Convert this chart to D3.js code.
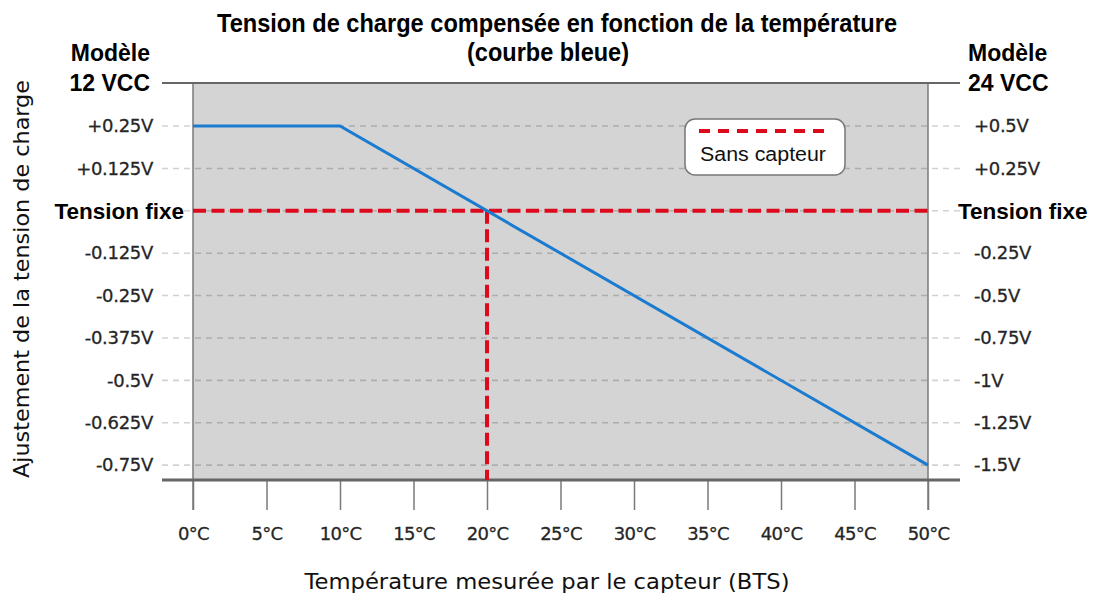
<!DOCTYPE html>
<html>
<head>
<meta charset="utf-8">
<script src="https://cdn.jsdelivr.net/npm/d3@7"></script>
<style>
  html, body { margin: 0; padding: 0; background: #fff; }
  svg { display: block; }
</style>
</head>
<body>
<svg id="chart" width="1094" height="594"></svg>
<script>
// Compensated charge voltage (blue curve) versus measured temperature
const temps = [0, 10, 50];
const adjust12 = [0.25, 0.25, -0.75];

const xTicks = [0, 5, 10, 15, 20, 25, 30, 35, 40, 45, 50];
const xTickLabels = ["0°C", "5°C", "10°C", "15°C", "20°C", "25°C", "30°C", "35°C", "40°C", "45°C", "50°C"];

const yTicks = [0.25, 0.125, 0, -0.125, -0.25, -0.375, -0.5, -0.625, -0.75];
const leftLabels = ["+0.25V", "+0.125V", "Tension fixe", "-0.125V", "-0.25V", "-0.375V", "-0.5V", "-0.625V", "-0.75V"];
const rightLabels = ["+0.5V", "+0.25V", "Tension fixe", "-0.25V", "-0.5V", "-0.75V", "-1V", "-1.25V", "-1.5V"];

// "Sans capteur": fixed voltage, crossing the curve at 20 °C
const fixedVoltage = 0;
const fixedTemp = 20;

const svg = d3.select("#chart");
const x = d3.scaleLinear().domain([0, 50]).range([193, 928]);
const y = d3.scaleLinear().domain([-0.794, 0.377]).range([480, 83]);

const plotTop = y.range()[1], plotBottom = y.range()[0];
const outerL = 162, outerR = 960;
const sans = "'DejaVu Sans', 'Noto Sans', sans-serif";
const boldFont = "'Liberation Sans', Arial, sans-serif";
const tickInk = "#262626";

// plot background
svg.append("rect")
  .attr("x", x(0)).attr("y", plotTop)
  .attr("width", x(50) - x(0)).attr("height", plotBottom - plotTop)
  .attr("fill", "#d4d4d4");

// dashed horizontal grid, running past both edges of the plot
svg.append("g").selectAll("line").data(yTicks).join("line")
  .attr("x1", outerL).attr("x2", outerR)
  .attr("y1", d => y(d)).attr("y2", d => y(d))
  .attr("stroke", "#000").attr("stroke-opacity", 0.18)
  .attr("stroke-width", 1.6).attr("stroke-dasharray", "6,5");

// x axis ticks (drawn below the bottom rule)
const xAxis = d3.axisBottom(x).tickValues(xTicks).tickSize(30).tickPadding(14)
  .tickFormat((d, i) => xTickLabels[i]);
const gx = svg.append("g").attr("transform", `translate(0,${plotBottom})`).call(xAxis);
gx.select(".domain").remove();
gx.selectAll(".tick line").attr("stroke", "#7a7a7a").attr("stroke-width", 1.5);
gx.selectAll(".tick text")
  .attr("font-family", sans).attr("font-size", 18).attr("fill", tickInk)
  .attr("stroke", tickInk).attr("stroke-width", 0.3)
  .attr("dy", "0.9em").attr("letter-spacing", -0.7);

// vertical edges of the plot
svg.append("g").selectAll("line").data([0, 50]).join("line")
  .attr("x1", d => x(d)).attr("x2", d => x(d))
  .attr("y1", plotTop).attr("y2", plotBottom + 30)
  .attr("stroke", "#7a7a7a").attr("stroke-width", 1.5);

// top and bottom rules
svg.append("g").selectAll("line").data([plotTop, plotBottom]).join("line")
  .attr("x1", outerL).attr("x2", outerR)
  .attr("y1", d => d).attr("y2", d => d)
  .attr("stroke", "#666").attr("stroke-width", (d, i) => i ? 3 : 2);

// shared styling for the voltage labels on both sides
function styleVoltageLabels(sel, plainX, boldX) {
  sel.attr("font-family", d => d === fixedVoltage ? boldFont : sans)
    .attr("font-weight", d => d === fixedVoltage ? "bold" : "normal")
    .attr("font-size", d => d === fixedVoltage ? 22.5 : 18)
    .attr("fill", d => d === fixedVoltage ? "#000" : tickInk)
    .attr("stroke", d => d === fixedVoltage ? "none" : tickInk)
    .attr("stroke-width", 0.3)
    .attr("letter-spacing", d => d === fixedVoltage ? 0 : -0.3)
    .attr("x", d => d === fixedVoltage ? boldX : plainX);
}

// left axis labels (12 VCC model)
const yAxisL = d3.axisLeft(y).tickValues(yTicks).tickSize(0).tickPadding(40)
  .tickFormat((d, i) => leftLabels[i]);
const gl = svg.append("g").attr("transform", `translate(${x(0)},0)`).call(yAxisL);
gl.select(".domain").remove();
styleVoltageLabels(gl.selectAll(".tick text"), -40, -9);

// right axis labels (24 VCC model)
const yAxisR = d3.axisRight(y).tickValues(yTicks).tickSize(0).tickPadding(47)
  .tickFormat((d, i) => rightLabels[i]);
const gr = svg.append("g").attr("transform", `translate(${x(50)},0)`).call(yAxisR);
gr.select(".domain").remove();
styleVoltageLabels(gr.selectAll(".tick text"), 46, 30);

// fixed-voltage reference (no sensor)
const red = "#dc0a1c";
svg.append("line")
  .attr("x1", x(0)).attr("x2", x(50))
  .attr("y1", y(fixedVoltage)).attr("y2", y(fixedVoltage))
  .attr("stroke", red).attr("stroke-width", 4).attr("stroke-dasharray", "13,5.5");
svg.append("line")
  .attr("x1", x(fixedTemp)).attr("x2", x(fixedTemp))
  .attr("y1", y(fixedVoltage)).attr("y2", plotBottom)
  .attr("stroke", red).attr("stroke-width", 4).attr("stroke-dasharray", "13,5.5");

// compensated curve
const line = d3.line().x(d => x(d[0])).y(d => y(d[1]));
svg.append("path")
  .datum(temps.map((t, i) => [t, adjust12[i]]))
  .attr("d", line)
  .attr("fill", "none").attr("stroke", "#1b7bd0").attr("stroke-width", 3);

// legend
const lg = svg.append("g").attr("transform", "translate(685,119)");
lg.append("rect").attr("width", 160).attr("height", 56).attr("rx", 10)
  .attr("fill", "#fff").attr("stroke", "#777").attr("stroke-width", 1.5);
lg.append("line").attr("x1", 14).attr("x2", 142).attr("y1", 12).attr("y2", 12)
  .attr("stroke", red).attr("stroke-width", 4).attr("stroke-dasharray", "11,8");
lg.append("text").attr("x", 15).attr("y", 42)
  .attr("font-family", "'Liberation Sans', Arial, sans-serif").attr("font-size", 20)
  .attr("fill", "#111").attr("textLength", 126).attr("lengthAdjust", "spacingAndGlyphs")
  .text("Sans capteur");

// title
const titleFont = "'Liberation Sans Narrow', 'Arial Narrow', 'Liberation Sans', sans-serif";
svg.append("text").attr("x", 557).attr("y", 32).attr("text-anchor", "middle")
  .attr("font-family", titleFont).attr("font-weight", "bold").attr("font-size", 25)
  .attr("textLength", 680).attr("lengthAdjust", "spacingAndGlyphs")
  .text("Tension de charge compensée en fonction de la température");
svg.append("text").attr("x", 548).attr("y", 61).attr("text-anchor", "middle")
  .attr("font-family", titleFont).attr("font-weight", "bold").attr("font-size", 25)
  .attr("textLength", 162).attr("lengthAdjust", "spacingAndGlyphs")
  .text("(courbe bleue)");

// model headers
const hdr = [
  { x: 150, anchor: "end", lines: ["Modèle", "12 VCC"] },
  { x: 968, anchor: "start", lines: ["Modèle", "24 VCC"] }
];
hdr.forEach(h => {
  h.lines.forEach((t, i) => {
    svg.append("text").attr("x", h.x).attr("y", 61 + i * 30)
      .attr("text-anchor", h.anchor)
      .attr("font-family", boldFont).attr("font-weight", "bold").attr("font-size", 23)
      .attr("fill", "#000").text(t);
  });
});

// axis titles
svg.append("text").attr("x", 547).attr("y", 589).attr("text-anchor", "middle")
  .attr("font-family", sans).attr("font-size", 22).attr("fill", "#111")
  .attr("textLength", 485).attr("lengthAdjust", "spacingAndGlyphs")
  .text("Température mesurée par le capteur (BTS)");
svg.append("text")
  .attr("transform", "translate(29,279) rotate(-90)")
  .attr("text-anchor", "middle")
  .attr("font-family", sans).attr("font-size", 22).attr("fill", "#111")
  .attr("textLength", 398).attr("lengthAdjust", "spacingAndGlyphs")
  .text("Ajustement de la tension de charge");
</script>
</body>
</html>
